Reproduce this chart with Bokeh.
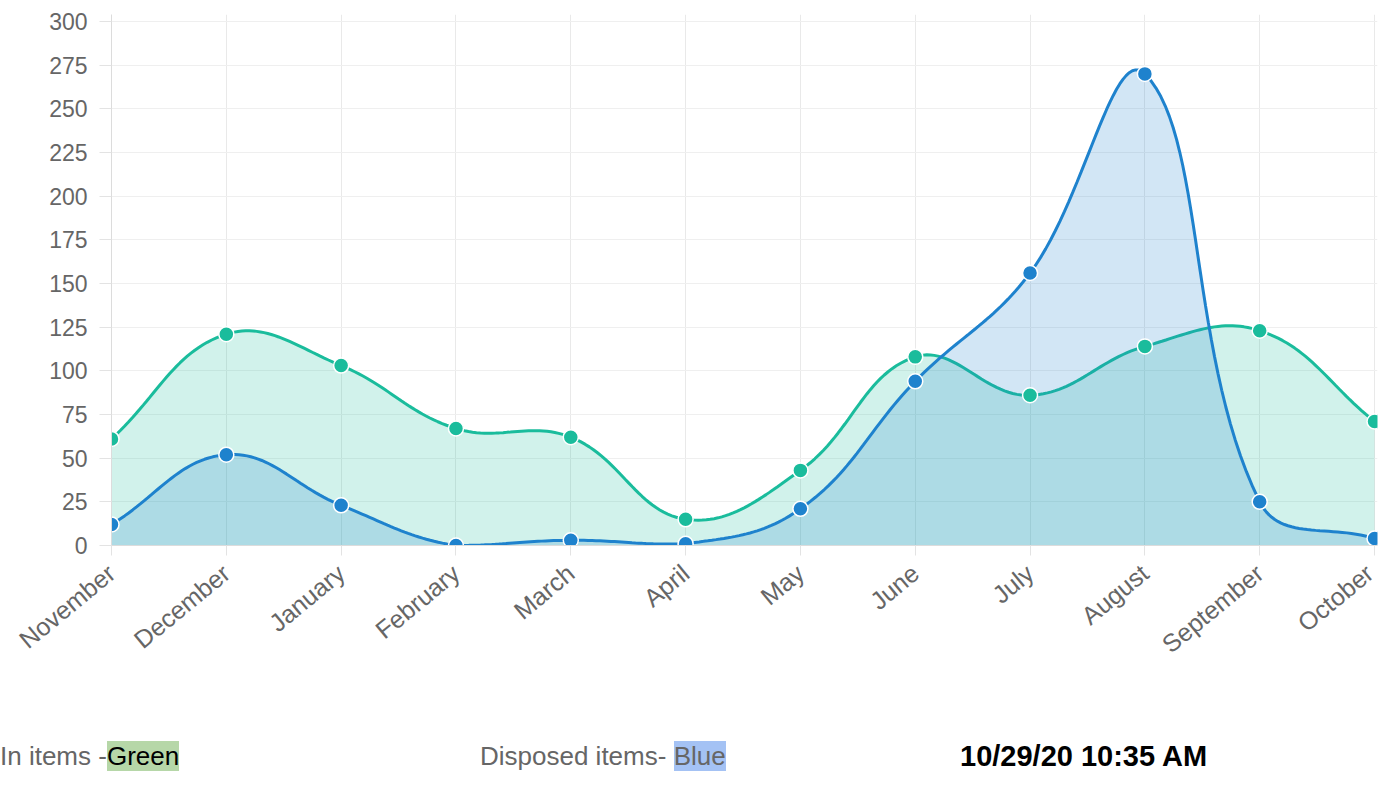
import math
import numpy as np
from bokeh.plotting import figure
from bokeh.models import FixedTicker, Range1d, Div
from bokeh.layouts import column
from bokeh.embed import file_html
from bokeh.resources import INLINE

# ---- data ----
months = ["November", "December", "January", "February", "March", "April",
          "May", "June", "July", "August", "September", "October"]
in_items = [61, 121, 103, 67, 62, 15, 43, 108, 86, 114, 123, 71]
disposed_items = [12, 52, 23, 0, 3, 1, 21, 94, 156, 270, 25, 4]
y_ticks = list(range(0, 301, 25))

# ---- layout constants (pixel scale of the plot frame) ----
SX = 114.8    # px per category step
SY = 1.747    # px per y unit
X_MAX = 11.026
Y_MAX = 304.0

GREEN = "#1abc9c"
BLUE = "#1e82cd"


def spline_path(vals, tension=0.4, n=30):
    """Chart.js-style bezier smoothing (tension 0.4), computed in pixel space."""
    m = len(vals)
    px = np.arange(m, dtype=float) * SX
    py = np.array(vals, dtype=float) * SY
    xmax, ymax = X_MAX * SX, Y_MAX * SY
    cps = []
    for i in range(m):
        a = max(i - 1, 0)
        b = min(i + 1, m - 1)
        d01 = math.hypot(px[i] - px[a], py[i] - py[a])
        d12 = math.hypot(px[b] - px[i], py[b] - py[i])
        tot = d01 + d12
        s01 = d01 / tot if tot else 0.0
        s12 = d12 / tot if tot else 0.0
        fa, fb = tension * s01, tension * s12
        dx, dy = px[b] - px[a], py[b] - py[a]
        prev = [px[i] - fa * dx, py[i] - fa * dy]
        nxt = [px[i] + fb * dx, py[i] + fb * dy]
        for c in (prev, nxt):
            c[0] = min(max(c[0], 0.0), xmax)
            c[1] = min(max(c[1], 0.0), ymax)
        cps.append((prev, nxt))
    xs, ys = [px[0]], [py[0]]
    t = np.linspace(0, 1, n + 1)[1:]
    for i in range(m - 1):
        p0 = np.array([px[i], py[i]])
        c1 = np.array(cps[i][1])
        c2 = np.array(cps[i + 1][0])
        p3 = np.array([px[i + 1], py[i + 1]])
        for tt in t:
            q = ((1 - tt) ** 3) * p0 + 3 * ((1 - tt) ** 2) * tt * c1 + 3 * (1 - tt) * tt ** 2 * c2 + tt ** 3 * p3
            xs.append(q[0])
            ys.append(q[1])
    return np.array(xs) / SX, np.array(ys) / SY


p = figure(width=1378, height=738,
           x_range=Range1d(0, X_MAX), y_range=Range1d(0, Y_MAX),
           output_backend="svg", toolbar_location=None,
           min_border_left=111, min_border_right=1,
           min_border_top=14, min_border_bottom=193)
p.outline_line_color = None
p.background_fill_color = "white"

# grid
p.xgrid.ticker = FixedTicker(ticks=list(range(len(months))))
p.ygrid.ticker = FixedTicker(ticks=y_ticks)
p.xgrid.grid_line_color = "#e9e9e9"
p.ygrid.grid_line_color = "#efefef"

# axes
p.xaxis.ticker = FixedTicker(ticks=list(range(len(months))))
p.xaxis.major_label_overrides = {i: m for i, m in enumerate(months)}
p.yaxis.ticker = FixedTicker(ticks=y_ticks)
for ax in (p.xaxis, p.yaxis):
    ax.axis_line_color = "#dcdcdc"
    ax.major_tick_line_color = "#e3e3e3"
    ax.minor_tick_line_color = None
    ax.major_tick_in = 0
    ax.major_label_text_font = "Liberation Sans"
    ax.major_label_text_color = "#666666"
p.yaxis.major_label_text_font_size = "23px"
p.xaxis.major_label_text_font_size = "25px"
p.yaxis.major_tick_out = 12
p.yaxis.major_label_standoff = 12
p.xaxis.major_tick_out = 10
p.xaxis.major_label_standoff = 14
p.xaxis.major_label_orientation = 0.69

idx = list(range(len(months)))

# In items (green)
gx, gy = spline_path(in_items)
p.varea(x=gx, y1=0, y2=gy, fill_color=GREEN, fill_alpha=0.2)
p.line(gx, gy, line_color=GREEN, line_width=3)

# Disposed items (blue)
bx, by = spline_path(disposed_items)
p.varea(x=bx, y1=0, y2=by, fill_color=BLUE, fill_alpha=0.2)
p.line(bx, by, line_color=BLUE, line_width=3)

p.scatter(idx, in_items, size=15, fill_color=GREEN, line_color="white", line_width=1.5)
p.scatter(idx, disposed_items, size=15, fill_color=BLUE, line_color="white", line_width=1.5)

legend_html = (
    '<div style="position:relative;width:1378px;height:38px;white-space:nowrap;'
    "font-family:'Liberation Sans',Arial,sans-serif;font-size:26px;line-height:36px;\">"
    '<span style="position:absolute;left:0px;top:0px;color:#666666;">In items -'
    '<span style="background:#b6d7a8;color:#000000;">Green</span></span>'
    '<span style="position:absolute;left:480px;top:0px;color:#666666;">Disposed items- '
    '<span style="background:#a4c2f4;color:#666666;">Blue</span></span>'
    '<span style="position:absolute;left:960px;top:0px;color:#000000;font-weight:bold;'
    'font-size:29px;">10/29/20 10:35 AM</span>'
    '</div>'
)
div = Div(text=legend_html, width=1378, height=38, margin=(0, 0, 0, 0))

layout = column(p, div, spacing=0)
open("out.html", "w").write(file_html(layout, INLINE))
